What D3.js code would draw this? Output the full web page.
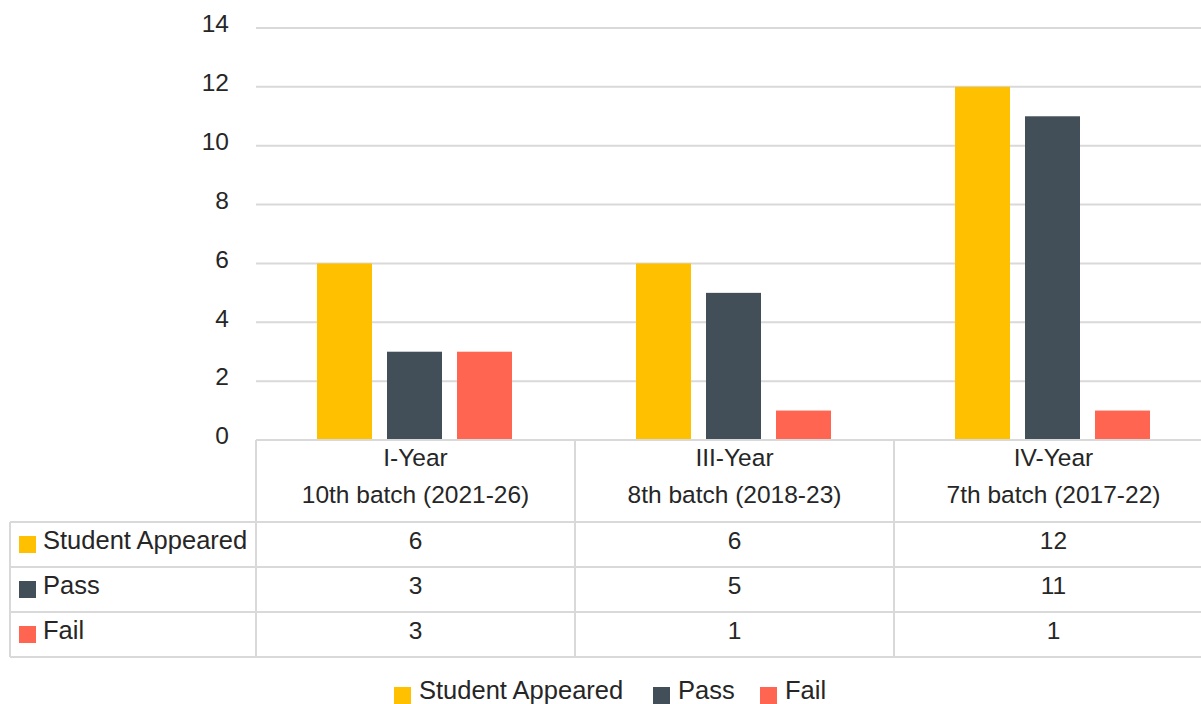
<!DOCTYPE html>
<html>
<head>
<meta charset="utf-8">
<script src="https://cdn.jsdelivr.net/npm/d3@7"></script>
<style>
  html, body { margin: 0; padding: 0; background: #ffffff; }
  svg { display: block; font-family: "Liberation Sans", Arial, sans-serif; }
</style>
</head>
<body>
<svg id="chart" width="1201" height="704"></svg>
<script>
// Year / batch categories (two-line labels)
const categories = ["I-Year", "III-Year", "IV-Year"];
const batches = ["10th batch (2021-26)", "8th batch (2018-23)", "7th batch (2017-22)"];
const seriesNames = ["Student Appeared", "Pass", "Fail"];
const appeared = [6, 6, 12];
const pass = [3, 5, 11];
const fail = [3, 1, 1];
const yTicks = [0, 2, 4, 6, 8, 10, 12, 14];
const colors = ["#FFC000", "#434F58", "#FF6550"];

const seriesValues = [appeared, pass, fail];

const svg = d3.select("#chart");
const textColor = "#262626";
const lineColor = "#d9d9d9";

const plotLeft = 256, plotRight = 1213, plotTop = 28, plotBottom = 440;
const tableLeft = 10;
const headerBottom = 522, rowH = 45;

const x0 = d3.scaleBand().domain(categories).range([plotLeft, plotRight]).paddingInner(0).paddingOuter(0);
const groupW = 195;
const x1 = d3.scaleBand().domain(seriesNames).range([0, groupW]).paddingInner(15 / 70).paddingOuter(0);
const y = d3.scaleLinear().domain([0, 14]).range([plotBottom, plotTop]);

// gridlines
svg.append("g").selectAll("line").data(yTicks).join("line")
  .attr("x1", plotLeft).attr("x2", 1201)
  .attr("y1", d => y(d)).attr("y2", d => y(d))
  .attr("stroke", lineColor).attr("stroke-width", 2);

// y axis labels
const yAxis = d3.axisLeft(y).tickValues(yTicks).tickSize(0).tickPadding(0);
const yg = svg.append("g").attr("transform", `translate(${229},0)`).call(yAxis);
yg.select(".domain").remove();
yg.selectAll("text").attr("font-size", 24.5).attr("fill", textColor)
  .attr("font-family", "Liberation Sans, Arial, sans-serif").attr("dy", "0.32em").attr("y", -4);

// bars
const groups = svg.append("g").selectAll("g").data(categories).join("g")
  .attr("transform", d => `translate(${x0(d) + (x0.bandwidth() - groupW) / 2 - 1},0)`);
groups.selectAll("rect").data((c, ci) => seriesNames.map((s, si) => ({ s, si, v: seriesValues[si][ci] })))
  .join("rect")
  .attr("x", d => x1(d.s)).attr("width", x1.bandwidth())
  .attr("y", d => y(d.v)).attr("height", d => y(0) - y(d.v))
  .attr("fill", d => colors[d.si]);

// data table
const table = svg.append("g");
const tableBottom = headerBottom + rowH * seriesNames.length;
// horizontal lines
table.append("line").attr("x1", plotLeft).attr("x2", 1201).attr("y1", plotBottom).attr("y2", plotBottom)
  .attr("stroke", lineColor).attr("stroke-width", 2);
for (let i = 0; i <= seriesNames.length; i++) {
  const yy = headerBottom + i * rowH;
  table.append("line").attr("x1", tableLeft).attr("x2", 1201).attr("y1", yy).attr("y2", yy)
    .attr("stroke", lineColor).attr("stroke-width", 2);
}
// vertical lines
table.append("line").attr("x1", tableLeft).attr("x2", tableLeft).attr("y1", headerBottom).attr("y2", tableBottom)
  .attr("stroke", lineColor).attr("stroke-width", 2);
categories.forEach(c => {
  table.append("line").attr("x1", x0(c)).attr("x2", x0(c)).attr("y1", plotBottom).attr("y2", tableBottom)
    .attr("stroke", lineColor).attr("stroke-width", 2);
});
// header labels
categories.forEach((c, i) => {
  const cx = x0(c) + x0.bandwidth() / 2;
  table.append("text").attr("x", cx).attr("y", 466).attr("text-anchor", "middle")
    .attr("font-size", 24.5).attr("fill", textColor).text(c);
  table.append("text").attr("x", cx).attr("y", 503).attr("text-anchor", "middle")
    .attr("font-size", 24.5).attr("fill", textColor).text(batches[i]);
});
// rows
seriesNames.forEach((s, si) => {
  const top = headerBottom + si * rowH;
  table.append("rect").attr("x", 19).attr("y", top + 14).attr("width", 17).attr("height", 17).attr("fill", colors[si]);
  table.append("text").attr("x", 43).attr("y", top + 27).attr("font-size", 25.5)
    .attr("fill", textColor).text(s);
  categories.forEach((c, ci) => {
    table.append("text").attr("x", x0(c) + x0.bandwidth() / 2).attr("y", top + 27)
      .attr("text-anchor", "middle").attr("font-size", 24.5).attr("fill", textColor)
      .text(seriesValues[si][ci]);
  });
});

// bottom legend
const legendItems = [
  { name: seriesNames[0], key: 394 },
  { name: seriesNames[1], key: 653 },
  { name: seriesNames[2], key: 760 }
];
const legend = svg.append("g");
legendItems.forEach((d, i) => {
  legend.append("rect").attr("x", d.key).attr("y", 687).attr("width", 17).attr("height", 17).attr("fill", colors[i]);
  legend.append("text").attr("x", d.key + 25).attr("y", 699).attr("font-size", 25.5)
    .attr("fill", textColor).text(d.name);
});
</script>
</body>
</html>
